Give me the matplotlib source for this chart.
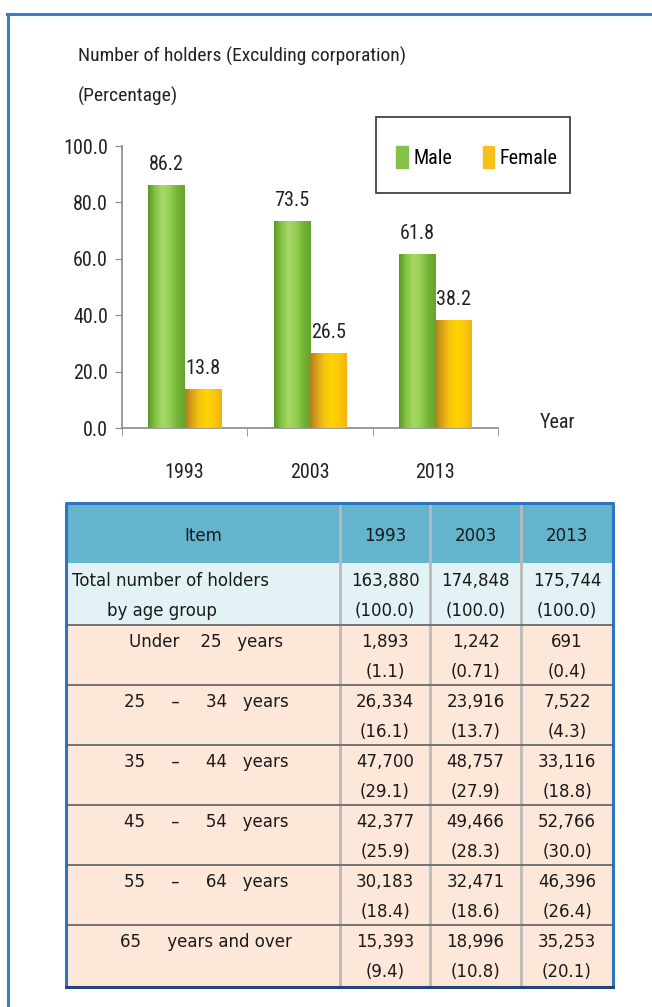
import numpy as np
import matplotlib
matplotlib.use("Agg")
import matplotlib.pyplot as plt
from matplotlib import font_manager
from matplotlib.patches import Rectangle, Patch
from matplotlib.lines import Line2D
from matplotlib.colors import LinearSegmentedColormap

# data
years = ["1993", "2003", "2013"]
male = [86.2, 73.5, 61.8]
female = [13.8, 26.5, 38.2]
yticks = [0, 20, 40, 60, 80, 100]

col_heads = ["Item", "1993", "2003", "2013"]
total_label = ["Total number of holders", "by age group"]
total_n = ["163,880", "174,848", "175,744"]
total_pct = ["(100.0)", "(100.0)", "(100.0)"]
age_labels = ["Under    25   years", "25     \u2013     34   years", "35     \u2013     44   years",
              "45     \u2013     54   years", "55     \u2013     64   years", "65     years and over"]
n_1993 = ["1,893", "26,334", "47,700", "42,377", "30,183", "15,393"]
n_2003 = ["1,242", "23,916", "48,757", "49,466", "32,471", "18,996"]
n_2013 = ["691", "7,522", "33,116", "52,766", "46,396", "35,253"]
p_1993 = ["(1.1)", "(16.1)", "(29.1)", "(25.9)", "(18.4)", "(9.4)"]
p_2003 = ["(0.71)", "(13.7)", "(27.9)", "(28.3)", "(18.6)", "(10.8)"]
p_2013 = ["(0.4)", "(4.3)", "(18.8)", "(30.0)", "(26.4)", "(20.1)"]

# pick a narrow font if one is there
ttf = font_manager.fontManager.ttflist
names = {f.name for f in ttf}
narrow_kw = {"family": ["DejaVu Sans"], "fontstretch": "normal"}
for cand in ["Liberation Sans Narrow", "Roboto Condensed", "Open Sans Condensed",
             "Noto Sans Condensed", "DejaVu Sans Condensed"]:
    if cand in names:
        narrow_kw = {"family": [cand, "DejaVu Sans"], "fontstretch": "normal"}
        break
else:
    cond = [f for f in ttf if str(f.stretch) in ("condensed", "semi-condensed")
            and f.name in ("DejaVu Sans", "Noto Sans", "Open Sans", "Roboto", "Liberation Sans")]
    if cond:
        narrow_kw = {"family": [cond[0].name], "fontstretch": cond[0].stretch}
wide = ["DejaVu Sans"]

W, H = 652, 1007
fig = plt.figure(figsize=(W / 100, H / 100), dpi=100)

def fx(px):
    return px / W

def fy(py):
    return 1 - py / H

# outer blue frame (top and left only)
fig.add_artist(Line2D([fx(7), 1], [fy(14), fy(14)], color="#3b7dc6", lw=2.2))
fig.add_artist(Line2D([fx(8), fx(8)], [fy(14), 0], color="#3b7dc6", lw=2.2))

# titles
fig.text(fx(78), fy(56), "Number of holders (Exculding corporation)", fontsize=14,
         va="center", ha="left", color="#222222", **narrow_kw)
fig.text(fx(78), fy(96), "(Percentage)", fontsize=14,
         va="center", ha="left", color="#222222", **narrow_kw)

# bar chart
ax = fig.add_axes([fx(122), fy(428), fx(498) - fx(122), fy(146) - fy(428)])
x = np.arange(len(years))
bw = 0.29
bm = ax.bar(x - bw / 2, male, bw, color="#7fbf3f", zorder=2)
bf = ax.bar(x + bw / 2, female, bw, color="#f4c21a", zorder=2)

green = LinearSegmentedColormap.from_list(
    "g", ["#5a9a24", "#86c548", "#a8d868", "#93cd54", "#75b435", "#66a52b"])
yellow = LinearSegmentedColormap.from_list(
    "y", ["#b0801c", "#dca418", "#f7c60e", "#ffd400", "#fcc70a", "#efb40c"])
grad = np.linspace(0, 1, 64).reshape(1, -1)
for bars, cm in ((bm, green), (bf, yellow)):
    for b in bars:
        x0, w, h = b.get_x(), b.get_width(), b.get_height()
        im = ax.imshow(grad, cmap=cm, extent=[x0, x0 + w, 0, h], aspect="auto", zorder=3)
        im.set_clip_path(b)

for bars, vals in ((bm, male), (bf, female)):
    for b, v in zip(bars, vals):
        ax.annotate(f"{v:.1f}", (b.get_x() + b.get_width() / 2, v), xytext=(0, 8),
                    textcoords="offset points", ha="center", va="bottom",
                    fontsize=14.5, color="#222222", **narrow_kw)

ax.set_xlim(-0.5, 2.5)
ax.set_ylim(0, 100)
ax.set_yticks(yticks)
ax.set_yticklabels([f"{t:.1f}" for t in yticks], fontsize=14.5, color="#222222", **narrow_kw)
ax.set_xticks(x)
ax.set_xticklabels(years, fontsize=14.5, color="#222222", **narrow_kw)
ax.set_xticks([-0.5, 0.5, 1.5, 2.5], minor=True)
ax.tick_params(axis="x", which="major", length=0, pad=25)
ax.tick_params(axis="x", which="minor", length=6, color="#8a8a8a", direction="out")
ax.tick_params(axis="y", length=5, color="#8a8a8a", direction="out", pad=5)
for s in ("top", "right"):
    ax.spines[s].set_visible(False)
for s in ("left", "bottom"):
    ax.spines[s].set_color("#8a8a8a")
    ax.spines[s].set_linewidth(1.2)
ax.set_facecolor("none")

fig.text(fx(540), fy(422), "Year", fontsize=14.5, va="center", ha="left",
         color="#222222", **narrow_kw)

# legend box
fig.add_artist(Rectangle((fx(376), fy(193)), fx(570) - fx(376), fy(117) - fy(193),
                         transform=fig.transFigure, fill=False, edgecolor="#333333", lw=1.2))
handles = [Patch(color="#86c14c", label="Male"), Patch(color="#f8c01c", label="Female")]
lprop = font_manager.FontProperties(family=narrow_kw["family"], stretch=narrow_kw["fontstretch"],
                                    size=14.5)
fig.legend(handles=handles, loc="center", bbox_to_anchor=(fx(477), fy(157)), ncol=2,
           frameon=False, handlelength=0.55, handleheight=1.3, handletextpad=0.3,
           columnspacing=1.5, prop=lprop)

# table
tx = fig.add_axes([0, 0, 1, 1])
tx.set_xlim(0, W)
tx.set_ylim(H, 0)
tx.axis("off")
cols = [66, 340, 430, 521, 613]
rows = [503, 563, 625, 685, 745, 805, 865, 925, 987]
tx.add_patch(Rectangle((cols[0], rows[0]), cols[-1] - cols[0], rows[1] - rows[0],
                       color="#64b4cd", lw=0))
tx.add_patch(Rectangle((cols[0], rows[1]), cols[-1] - cols[0], rows[2] - rows[1],
                       color="#e3f2f5", lw=0))
tx.add_patch(Rectangle((cols[0], rows[2]), cols[-1] - cols[0], rows[-1] - rows[2],
                       color="#fce7d9", lw=0))
for c in cols[1:-1]:
    tx.plot([c, c], [rows[0], rows[-1]], color="#b9b9b9", lw=2, solid_capstyle="butt")
for r in rows[2:-1]:
    tx.plot([cols[0], cols[-1]], [r, r], color="#6a6a6a", lw=1.3)
tx.plot([cols[0], cols[0], cols[-1], cols[-1]], [rows[-1], rows[0], rows[0], rows[-1]],
        color="#2f74c0", lw=2.2)
tx.plot([cols[0], cols[-1]], [rows[-1], rows[-1]], color="#23467a", lw=2.2)

tfs = 12
centers = [(cols[i] + cols[i + 1]) / 2 for i in range(4)]
for cx, t in zip(centers, col_heads):
    tx.text(cx, 536, t, family=wide, fontsize=tfs, ha="center", va="center", color="#1a1a1a")

tx.text(72, 581, total_label[0], family=wide, fontsize=tfs, ha="left", va="center",
        color="#1a1a1a")
tx.text(107, 611, total_label[1], family=wide, fontsize=tfs, ha="left", va="center",
        color="#1a1a1a")
for cx, n, p in zip(centers[1:], total_n, total_pct):
    tx.text(cx, 581, n, family=wide, fontsize=tfs, ha="center", va="center", color="#1a1a1a")
    tx.text(cx, 611, p, family=wide, fontsize=tfs, ha="center", va="center", color="#1a1a1a")

for i, lab in enumerate(age_labels):
    top = rows[2 + i]
    tx.text(206, top + 17, lab, family=wide, fontsize=tfs, ha="center", va="center",
            color="#1a1a1a")
    for cx, ns, ps in zip(centers[1:], (n_1993, n_2003, n_2013), (p_1993, p_2003, p_2013)):
        tx.text(cx, top + 17, ns[i], family=wide, fontsize=tfs, ha="center", va="center",
                color="#1a1a1a")
        tx.text(cx, top + 47, ps[i], family=wide, fontsize=tfs, ha="center", va="center",
                color="#1a1a1a")

fig.savefig("out.png", dpi=100)
